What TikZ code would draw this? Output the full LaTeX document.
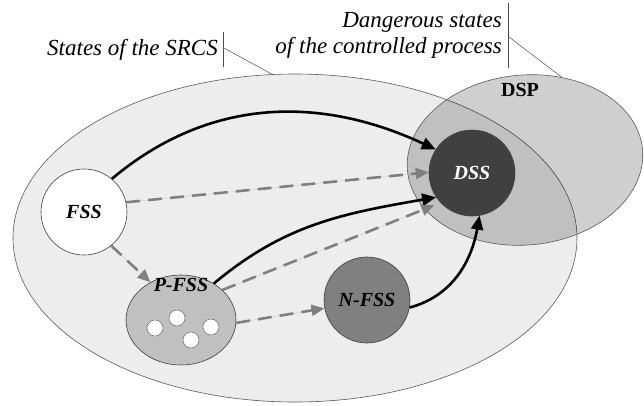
\documentclass[tikz,border=0pt]{standalone}
\usepackage{fontspec}
\setmainfont{LiberationSerif}[Extension=.ttf, UprightFont=*-Regular, BoldFont=*-Bold, ItalicFont=*-Italic, BoldItalicFont=*-BoldItalic]
\usepackage{xcolor}
\usepackage{tikz}
\usetikzlibrary{arrows.meta,positioning,shapes.geometric}

\definecolor{srcsgray}{HTML}{EDEDED}
\definecolor{pfssgray}{HTML}{C0C0C0}
\definecolor{nfssgray}{HTML}{808080}
\definecolor{dssgray}{HTML}{404040}

\begin{document}
\begin{tikzpicture}[
  x=1pt, y=1pt,
  region/.style={ellipse, draw=black!65, line width=0.6pt, inner sep=0pt},
  state/.style={circle, draw=black!75, line width=0.6pt, minimum size=86pt, inner sep=0pt, font=\fontsize{20}{24}\selectfont\bfseries\itshape},
  hole/.style={circle, draw=black!60, line width=0.5pt, fill=white, minimum size=16pt, inner sep=0pt},
  solidarr/.style={-{Triangle[length=14pt,width=12pt]}, line width=2.6pt, draw=black},
  dasharr/.style={-{Triangle[length=13pt,width=11pt]}, line width=2.6pt, draw=black!50, fill=black!50, dash pattern=on 14pt off 8pt},
  lead/.style={draw=black!70, line width=0.5pt},
  caption/.style={font=\fontsize{23}{26}\selectfont\itshape, inner sep=0pt, anchor=base east}
]
\useasboundingbox (0,0) rectangle (644,-405);

% state sets
\node[region, fill=srcsgray, minimum width=564pt, minimum height=328pt] (srcs) at (295,-238) {};
\node[region, fill=black, fill opacity=0.19, minimum width=236pt, minimum height=170pt, rotate=5] (dsp) at (525,-160) {};
\node[font=\fontsize{20}{24}\selectfont\bfseries] (dsplbl) at (520,-90) {DSP};

% captions
\node[caption] (srcstxt) at (218,-55) {States of the SRCS};
\node[caption] (dsptxt1) at (502,-27) {Dangerous states};
\node[caption] (dsptxt2) at (502,-53) {of the controlled process};
\coordinate (srcsbartop) at (223,-32);
\coordinate (srcsbarbot) at (223,-67);
\coordinate (srcsknee) at (224,-48);
\coordinate (dspbartop) at (508,-3);
\coordinate (dspbarbot) at (508,-68);
\coordinate (dspknee) at (509,-37);
\draw[lead] (srcsbartop) -- (srcsbarbot);
\draw[lead] (srcsknee) -- (srcs.98);
\draw[lead] (dspbartop) -- (dspbarbot);
\draw[lead] (dspknee) -- (dsp.61);

% states
\node[state, fill=white] (fss) at (84,-212) {FSS};
\node[region, draw=black!75, fill=pfssgray, minimum width=110pt, minimum height=90pt] (pfss) at (181,-320) {};
\node[font=\fontsize{20}{24}\selectfont\bfseries\itshape] (pfsslbl) at (181,-285) {P-FSS};
\foreach \dx/\dy [count=\i] in {-26/-8, -4/2, 10/-20, 30/-7}
  \node[hole] (hole\i) at ([shift={(\dx,\dy)}]pfss.center) {};
\node[state, fill=nfssgray] (nfss) at (367,-300) {N-FSS};
\node[state, fill=dssgray, text=white] (dss) at (472,-173) {DSS};

% transitions
\draw[solidarr] (fss.50) to[out=40,in=155] (dss.147);
\draw[dasharr] (fss.13) -- (dss.179);
\draw[dasharr] (fss.-51) -- (pfss.129);
\draw[solidarr] (pfss.48) to[out=40,in=190] (dss.214);
\draw[dasharr] (pfss.36) -- ([shift={(-4,-5)}]dss.219);
\draw[dasharr] (pfss.-3) -- (nfss.191);
\draw[solidarr] (nfss.-10) to[out=15,in=-100] (dss.-80);
\end{tikzpicture}
\end{document}
